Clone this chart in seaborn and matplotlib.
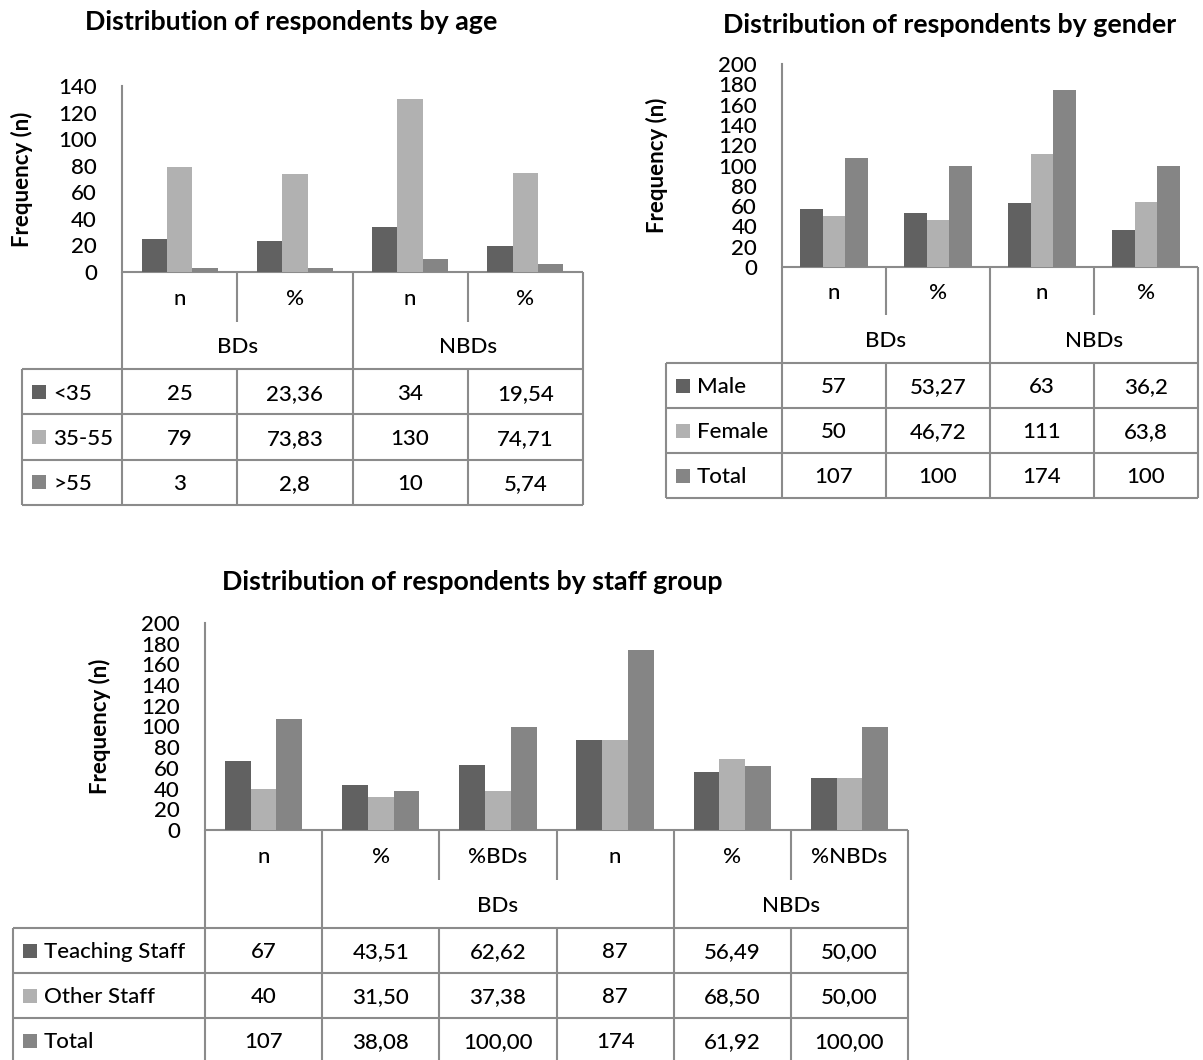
import numpy as np
import pandas as pd
import matplotlib
matplotlib.use("Agg")
import matplotlib.pyplot as plt
import seaborn as sns

plt.rcParams['font.family'] = ['Lato', 'DejaVu Sans']
plt.rcParams['text.color'] = 'black'

# ---------------- data ----------------
# Age
age_columns = ["n", "%", "n", "%"]
age_groups = [("BDs", 0, 2), ("NBDs", 2, 4)]
age_series = ["<35", "35-55", ">55"]
age_lt35 = [25, 23.36, 34, 19.54]
age_35_55 = [79, 73.83, 130, 74.71]
age_gt55 = [3, 2.8, 10, 5.74]
age_formats = ["{:g}", "{:g}", "{:g}", "{:g}"]

# Gender
gender_columns = ["n", "%", "n", "%"]
gender_groups = [("BDs", 0, 2), ("NBDs", 2, 4)]
gender_series = ["Male", "Female", "Total"]
gender_male = [57, 53.27, 63, 36.2]
gender_female = [50, 46.72, 111, 63.8]
gender_total = [107, 100, 174, 100]
gender_formats = ["{:g}", "{:g}", "{:g}", "{:g}"]

# Staff group
staff_columns = ["n", "%", "%BDs", "n", "%", "%NBDs"]
staff_groups = [("", 0, 1), ("BDs", 1, 4), ("NBDs", 4, 6)]
staff_series = ["Teaching Staff", "Other Staff", "Total"]
staff_teaching = [67, 43.51, 62.62, 87, 56.49, 50.00]
staff_other = [40, 31.50, 37.38, 87, 68.50, 50.00]
staff_total = [107, 38.08, 100.00, 174, 61.92, 100.00]
staff_formats = ["{:g}", "{:.2f}", "{:.2f}", "{:g}", "{:.2f}", "{:.2f}"]

series_colors = ["#616161", "#b1b1b1", "#858585"]

# ---------------- layout helpers ----------------
W, H = 1203, 1060
fig = plt.figure(figsize=(W / 100, H / 100), dpi=100)
fig.patch.set_facecolor("white")

overlay = fig.add_axes([0, 0, 1, 1], zorder=0)
overlay.set_xlim(0, W)
overlay.set_ylim(H, 0)
overlay.axis("off")

LINE_C = "#8b8b8b"
LINE_W = 1.5
FS = 16
WEIGHT = "medium"


def px_axes(x0, y0, x1, y1):
    return fig.add_axes([x0 / W, 1 - y1 / H, (x1 - x0) / W, (y1 - y0) / H], zorder=2)


def ctext(x, y, s, size=FS, weight=WEIGHT, ha="center"):
    cap = 0.717 * size * 100 / 72
    overlay.text(x, y + cap / 2, s, ha=ha, va="baseline", fontsize=size,
                 fontweight=weight)


def hline(y, x0, x1):
    overlay.plot([x0, x1], [y, y], color=LINE_C, lw=LINE_W, solid_capstyle="butt")


def vline(x, y0, y1):
    overlay.plot([x, x], [y0, y1], color=LINE_C, lw=LINE_W, solid_capstyle="butt")


def chart(title, title_xy, box, ymax, ylabel_x, columns, groups, series, rows,
          formats, left, h1, h2, row_h):
    x0, ytop, x1, y0 = box
    keys = [f"c{i}" for i in range(len(columns))]
    df = pd.DataFrame({
        "col": [k for _ in series for k in keys],
        "series": [s for s in series for _ in keys],
        "value": [v for r in rows for v in r],
    })
    ax = px_axes(x0, ytop, x1, y0)
    ax.set_facecolor("none")
    sns.barplot(data=df, x="col", y="value", hue="series", order=keys,
                hue_order=series, palette=series_colors, width=0.66,
                saturation=1, legend=False, errorbar=None, linewidth=0, ax=ax)
    ax.set_ylim(0, ymax)
    ax.set_xlim(-0.5, len(keys) - 0.5)
    ax.set_yticks(np.arange(0, ymax + 1, 20))
    ax.set_xticks([])
    ax.set_xlabel("")
    ax.set_ylabel("")
    ax.tick_params(axis="y", length=0, pad=18, labelsize=FS)
    for lab in ax.get_yticklabels():
        lab.set_fontweight(WEIGHT)
    for side in ("top", "right", "bottom"):
        ax.spines[side].set_visible(False)
    ax.spines["left"].set_color(LINE_C)
    ax.spines["left"].set_linewidth(LINE_W)

    # title and axis label
    ctext(title_xy[0], title_xy[1], title, size=19.3, weight="bold")
    fig.text(ylabel_x / W, 1 - ((ytop + y0) / 2) / H, "Frequency (n)",
             rotation=90, ha="center", va="center", fontsize=16,
             fontweight="bold")

    # data table below the axis
    edges = np.linspace(x0, x1, len(columns) + 1)
    n_rows = len(series)
    bottom = h2 + n_rows * row_h
    hline(y0, x0, x1)
    for j, lab in enumerate(columns):
        ctext((edges[j] + edges[j + 1]) / 2, (y0 + h1) / 2, lab)
    full = set()
    for name, a, b in groups:
        full.update([a, b])
        if name:
            ctext((edges[a] + edges[b]) / 2, (h1 + h2) / 2, name)
    full.update([0, len(columns)])
    for j, x in enumerate(edges):
        if j in full:
            vline(x, y0, bottom)
        else:
            vline(x, y0, h1)
            vline(x, h2, bottom)
    vline(left, h2, bottom)
    for i in range(n_rows + 1):
        hline(h2 + i * row_h, left, x1)
    for i, (name, vals) in enumerate(zip(series, rows)):
        yc = h2 + (i + 0.5) * row_h
        sq = 14
        overlay.add_patch(plt.Rectangle((left + 10, yc - sq / 2), sq, sq,
                                        color=series_colors[i], lw=0))
        ctext(left + 31, yc, name, ha="left")
        for j, (v, f) in enumerate(zip(vals, formats)):
            ctext((edges[j] + edges[j + 1]) / 2, yc, f.format(v).replace(".", ","))


chart("Distribution of respondents by age", (291, 20), (122, 86, 583, 272), 140, 22,
      age_columns, age_groups, age_series, [age_lt35, age_35_55, age_gt55],
      age_formats, left=22, h1=322, h2=369, row_h=45.3)

chart("Distribution of respondents by gender", (950, 23), (782, 64, 1198, 267), 200, 657,
      gender_columns, gender_groups, gender_series,
      [gender_male, gender_female, gender_total],
      gender_formats, left=666, h1=315, h2=363, row_h=45)

chart("Distribution of respondents by staff group", (472, 580), (205, 623, 908, 830), 200, 100,
      staff_columns, staff_groups, staff_series,
      [staff_teaching, staff_other, staff_total],
      staff_formats, left=13, h1=880, h2=928, row_h=45)

fig.savefig("out.png", dpi=100, facecolor="white")
